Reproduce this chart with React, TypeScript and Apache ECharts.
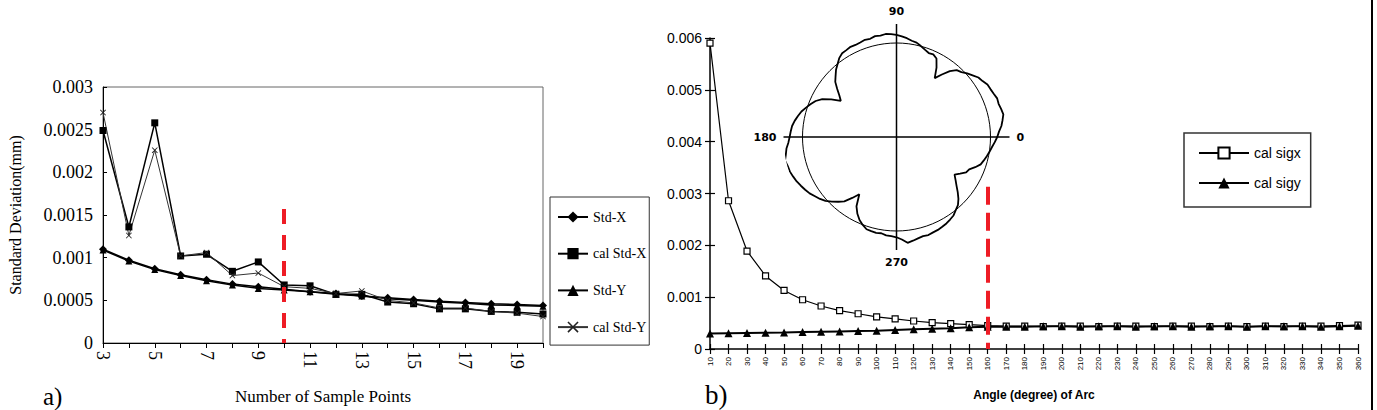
import React, { useEffect, useRef } from 'react';
import * as echarts from 'echarts';

// ---------- Panel a) ----------
const samplePoints = ['3', '4', '5', '6', '7', '8', '9', '10', '11', '12', '13', '14', '15', '16', '17', '18', '19', '20'];
const stdX = [0.0011, 0.00097, 0.00087, 0.0008, 0.00074, 0.00069, 0.00066, 0.00063, 0.0006, 0.00058, 0.00055, 0.00053, 0.00051, 0.00049, 0.000475, 0.00046, 0.00045, 0.00044];
const calStdX = [0.00249, 0.00136, 0.00258, 0.00102, 0.00104, 0.00084, 0.00095, 0.00068, 0.00067, 0.00057, 0.00057, 0.00048, 0.00046, 0.0004, 0.0004, 0.00037, 0.00036, 0.00034];
const stdY = [0.00109, 0.00096, 0.00086, 0.00079, 0.00073, 0.00068, 0.00064, 0.00062, 0.0006, 0.00057, 0.00055, 0.00052, 0.0005, 0.00048, 0.000465, 0.000445, 0.00044, 0.00043];
const calStdY = [0.0027, 0.00126, 0.00226, 0.00102, 0.00106, 0.00079, 0.00082, 0.00066, 0.00064, 0.00058, 0.00061, 0.0005, 0.00047, 0.00041, 0.00041, 0.00037, 0.00035, 0.00031];
const markerA = { category: '10', top: 0.00157 };

// ---------- Panel b) ----------
const arcAngles = ['10', '20', '30', '40', '50', '60', '70', '80', '90', '100', '110', '120', '130', '140', '150', '160', '170', '180', '190', '200', '210', '220', '230', '240', '250', '260', '270', '280', '290', '300', '310', '320', '330', '340', '350', '360'];
const calSigX = [0.0059, 0.00286, 0.00189, 0.00141, 0.00113, 0.00095, 0.00083, 0.00074, 0.00068, 0.00062, 0.00058, 0.00054, 0.00051, 0.00049, 0.00047, 0.00045, 0.00044, 0.00044, 0.00043, 0.00044, 0.00044, 0.00043, 0.00044, 0.00044, 0.00043, 0.00044, 0.00044, 0.00043, 0.00044, 0.00043, 0.00044, 0.00043, 0.00044, 0.00044, 0.00045, 0.00046];
const calSigY = [0.0003, 0.000305, 0.00031, 0.000315, 0.00032, 0.00033, 0.000335, 0.00034, 0.000345, 0.00035, 0.000365, 0.00038, 0.00039, 0.0004, 0.00042, 0.00043, 0.00043, 0.00043, 0.00044, 0.00044, 0.00043, 0.00044, 0.00044, 0.00043, 0.00044, 0.00044, 0.00043, 0.00044, 0.00044, 0.00043, 0.00044, 0.00044, 0.00044, 0.00043, 0.00044, 0.00045];
const markerB = { category: '160', top: 0.00313 };

// ---------- Inset polar profile (radius relative to reference circle = 1) ----------
const profileAngles = [0, 3, 6, 9, 12, 15, 18, 21, 24, 27, 30, 33, 36, 39, 42, 45, 48, 51, 54, 57, 60, 63, 66, 69, 72, 75, 78, 81, 84, 87, 90, 93, 96, 99, 102, 105, 108, 111, 114, 117, 120, 123, 126, 129, 132, 135, 138, 141, 144, 147, 150, 153, 156, 159, 162, 165, 168, 171, 174, 177, 180, 183, 186, 189, 192, 195, 198, 201, 204, 207, 210, 213, 216, 219, 222, 225, 228, 231, 234, 237, 240, 243, 246, 249, 252, 255, 258, 261, 264, 267, 270, 273, 276, 279, 282, 285, 288, 291, 294, 297, 300, 303, 306, 309, 312, 315, 318, 321, 324, 327, 330, 333, 336, 339, 342, 345, 348, 351, 354, 357, 360];
const profileRadius = [1.07, 1.09, 1.12, 1.14, 1.16, 1.15, 1.14, 1.145, 1.13, 1.12, 1.115, 1.09, 1.075, 1.04, 1.01, 0.975, 0.955, 0.9, 0.82, 0.745, 0.85, 0.935, 0.96, 0.955, 0.975, 1.0, 1.025, 1.035, 1.055, 1.07, 1.085, 1.095, 1.1, 1.09, 1.095, 1.08, 1.085, 1.075, 1.07, 1.075, 1.065, 1.06, 1.035, 0.995, 0.96, 0.915, 0.875, 0.81, 0.75, 0.705, 0.8, 0.885, 0.94, 0.975, 1.01, 1.045, 1.07, 1.095, 1.115, 1.125, 1.135, 1.15, 1.175, 1.19, 1.21, 1.195, 1.19, 1.175, 1.16, 1.14, 1.12, 1.1, 1.07, 1.045, 1.015, 0.97, 0.925, 0.88, 0.8, 0.725, 0.85, 0.915, 0.965, 1.0, 1.03, 1.035, 1.04, 1.035, 1.05, 1.055, 1.065, 1.09, 1.13, 1.115, 1.1, 1.09, 1.095, 1.085, 1.08, 1.07, 1.06, 1.045, 1.03, 1.0, 0.975, 0.93, 0.875, 0.82, 0.775, 0.735, 0.78, 0.83, 0.845, 0.895, 0.94, 0.96, 0.98, 1.0, 1.02, 1.045, 1.07];
const polarLabels: Record<number, string> = { 0: '0', 90: '90', 180: '180', 270: '270' };

const SERIF = '"Liberation Serif", "Times New Roman", serif';
const SANS = '"Liberation Sans", Arial, sans-serif';

const xMark = 'path://M0,1 L1,0 L5,4 L9,0 L10,1 L6,5 L10,9 L9,10 L5,6 L1,10 L0,9 L4,5 Z';

function fmtA(v: number) {
  if (v === 0) return '0';
  return String(parseFloat(v.toFixed(4)));
}

export default function App() {
  const ref = useRef<HTMLDivElement>(null);
  useEffect(() => {
    document.body.style.margin = '0';
    const chart = echarts.init(ref.current!, undefined, { renderer: 'svg' });
    const blackLine = { color: '#000', width: 1.5 };
    const option: any = {
      animation: false,
      backgroundColor: '#fff',
      grid: [
        { left: 103, top: 87, width: 440, height: 258, show: true, borderColor: '#666', borderWidth: 1, backgroundColor: 'transparent' },
        { left: 710, top: 38, width: 648, height: 311, show: false },
      ],
      xAxis: [
        {
          gridIndex: 0, type: 'category', data: samplePoints, boundaryGap: false,
          axisLine: { lineStyle: { color: '#000', width: 1 } },
          axisTick: { show: true, length: 5, interval: 0, lineStyle: { color: '#000' } },
          axisLabel: { interval: 1, rotate: -90, fontFamily: SERIF, fontSize: 18, color: '#000', margin: 8 },
          splitLine: { show: false },
          name: 'Number of Sample Points', nameLocation: 'middle', nameGap: 45,
          nameTextStyle: { fontFamily: SERIF, fontSize: 17, color: '#000' },
        },
        {
          gridIndex: 1, type: 'category', data: arcAngles, boundaryGap: false,
          axisLine: { lineStyle: blackLine },
          axisTick: { show: true, length: 5, interval: 0, lineStyle: { color: '#000', width: 1.2 } },
          axisLabel: { interval: 0, rotate: 90, fontFamily: SANS, fontSize: 8, color: '#000', margin: 8 },
          splitLine: { show: false },
          name: 'Angle (degree) of Arc', nameLocation: 'middle', nameGap: 40,
          nameTextStyle: { fontFamily: SANS, fontSize: 12, fontWeight: 'bold', color: '#000' },
        },
        {
          gridIndex: 1, type: 'category', data: arcAngles, boundaryGap: false, position: 'bottom',
          axisLine: { show: false },
          axisTick: { show: true, inside: true, length: 5, interval: 0, lineStyle: { color: '#000', width: 1.2 } },
          axisLabel: { show: false }, splitLine: { show: false },
        },
      ],
      yAxis: [
        {
          gridIndex: 0, type: 'value', min: 0, max: 0.003, interval: 0.0005,
          axisLine: { show: true, lineStyle: { color: '#000', width: 1 } },
          axisTick: { show: true, inside: true, length: 4, lineStyle: { color: '#000' } },
          axisLabel: { formatter: fmtA, fontFamily: SERIF, fontSize: 18, color: '#000', margin: 10 },
          splitLine: { show: false },
          name: 'Standard Deviation(mm)', nameLocation: 'middle', nameGap: 80, nameRotate: 90,
          nameTextStyle: { fontFamily: SERIF, fontSize: 16, color: '#000' },
        },
        {
          gridIndex: 1, type: 'value', min: 0, max: 0.006, interval: 0.001,
          axisLine: { show: true, lineStyle: blackLine },
          axisTick: { show: true, length: 5, lineStyle: { color: '#000', width: 1.2 } },
          axisLabel: { formatter: (v: number) => (v === 0 ? '0' : v.toFixed(3)), fontFamily: SANS, fontSize: 14, color: '#000', margin: 8 },
          splitLine: { show: false },
        },
        {
          gridIndex: 1, type: 'value', min: 0, max: 0.006, interval: 0.001, position: 'left',
          axisLine: { show: false },
          axisTick: { show: true, inside: true, length: 5, lineStyle: { color: '#000', width: 1.2 } },
          axisLabel: { show: false }, splitLine: { show: false },
        },
      ],
      polar: [
        { center: [896.5, 137], radius: 113 },
        { center: [896.5, 137], radius: 94 },
      ],
      angleAxis: [
        {
          polarIndex: 0, type: 'value', min: 0, max: 360, interval: 90, startAngle: 0, clockwise: false,
          axisLine: { show: false }, axisTick: { show: false },
          splitLine: { show: true, lineStyle: { color: '#000', width: 1.5 } },
          axisLabel: {
            show: true, margin: 7, color: '#000', fontFamily: '"DejaVu Sans", sans-serif', fontWeight: 'bold', fontSize: 11,
            formatter: (v: number) => (polarLabels[v] !== undefined && v !== 360 ? polarLabels[v] : ''),
          },
        },
        {
          polarIndex: 1, type: 'value', min: 0, max: 360, startAngle: 0, clockwise: false,
          axisLine: { show: true, lineStyle: { color: '#000', width: 1 } },
          axisTick: { show: false }, axisLabel: { show: false }, splitLine: { show: false },
        },
      ],
      radiusAxis: [
        { polarIndex: 0, type: 'value', min: 0, max: 1.2, show: false },
        { polarIndex: 1, type: 'value', min: 0, max: 1, show: false },
      ],
      legend: [
        {
          orient: 'vertical', left: 550, top: 197, padding: [13, 3, 11, 7], itemGap: 22.7, itemWidth: 30, itemHeight: 14,
          borderColor: '#333', borderWidth: 1, backgroundColor: '#fff',
          data: ['Std-X', 'cal Std-X', 'Std-Y', 'cal Std-Y'],
          textStyle: { fontFamily: SERIF, fontSize: 14, color: '#000' },
        },
        {
          orient: 'vertical', left: 1184, top: 133, padding: [13, 10, 17, 14], itemGap: 16, itemWidth: 50, itemHeight: 14,
          borderColor: '#333', borderWidth: 1.5, backgroundColor: '#fff',
          data: ['cal sigx', 'cal sigy'],
          textStyle: { fontFamily: SANS, fontSize: 14, color: '#000' },
        },
      ],
      graphic: [
        { type: 'text', left: 43, top: 384, style: { text: 'a)', fontFamily: SERIF, fontSize: 25, fill: '#000' } },
        { type: 'text', left: 705, top: 381, style: { text: 'b)', fontFamily: SERIF, fontSize: 27, fill: '#000' } },
        { type: 'line', shape: { x1: 1372, y1: 0, x2: 1372, y2: 410 }, style: { stroke: '#000', lineWidth: 2 } },
      ],
      series: [
        {
          name: 'Std-X', type: 'line', xAxisIndex: 0, yAxisIndex: 0, data: stdX,
          symbol: 'diamond', symbolSize: 8, itemStyle: { color: '#000' }, lineStyle: { color: '#000', width: 1.5 },
          markLine: {
            silent: true, symbol: 'none', label: { show: false },
            lineStyle: { color: '#ee1c25', width: 4, type: [15, 11] },
            data: [[{ coord: [markerA.category, markerA.top] }, { coord: [markerA.category, 0] }]],
          },
        },
        {
          name: 'cal Std-X', type: 'line', xAxisIndex: 0, yAxisIndex: 0, data: calStdX,
          symbol: 'rect', symbolSize: 7, itemStyle: { color: '#000' }, lineStyle: { color: '#000', width: 1.5 },
        },
        {
          name: 'Std-Y', type: 'line', xAxisIndex: 0, yAxisIndex: 0, data: stdY,
          symbol: 'triangle', symbolSize: 7, itemStyle: { color: '#000' }, lineStyle: { color: '#000', width: 1.5 },
        },
        {
          name: 'cal Std-Y', type: 'line', xAxisIndex: 0, yAxisIndex: 0, data: calStdY,
          symbol: xMark, symbolSize: 6, itemStyle: { color: '#222' }, lineStyle: { color: '#333', width: 1 },
        },
        {
          name: 'cal sigx', type: 'line', xAxisIndex: 1, yAxisIndex: 1, data: calSigX,
          symbol: 'rect', symbolSize: 6, itemStyle: { color: '#fff', borderColor: '#000', borderWidth: 1.2 },
          lineStyle: { color: '#000', width: 1.2 },
          markLine: {
            silent: true, symbol: 'none', label: { show: false },
            lineStyle: { color: '#ee1c25', width: 4, type: [18, 8] },
            data: [[{ coord: [markerB.category, markerB.top] }, { coord: [markerB.category, 0] }]],
          },
        },
        {
          name: 'cal sigy', type: 'line', xAxisIndex: 1, yAxisIndex: 1, data: calSigY,
          symbol: 'triangle', symbolSize: 8, itemStyle: { color: '#000' }, lineStyle: { color: '#000', width: 2 },
        },
        {
          name: 'profile', type: 'line', coordinateSystem: 'polar', polarIndex: 0, clip: false,
          data: profileAngles.map((a, i) => [profileRadius[i], a]),
          symbol: 'none', lineStyle: { color: '#000', width: 1.8 }, z: 5,
        },
      ],
    };
    chart.setOption(option);
    return () => chart.dispose();
  }, []);
  return <div ref={ref} style={{ position: 'fixed', left: 0, top: 0, width: 1377, height: 410, background: '#fff' }} />;
}
